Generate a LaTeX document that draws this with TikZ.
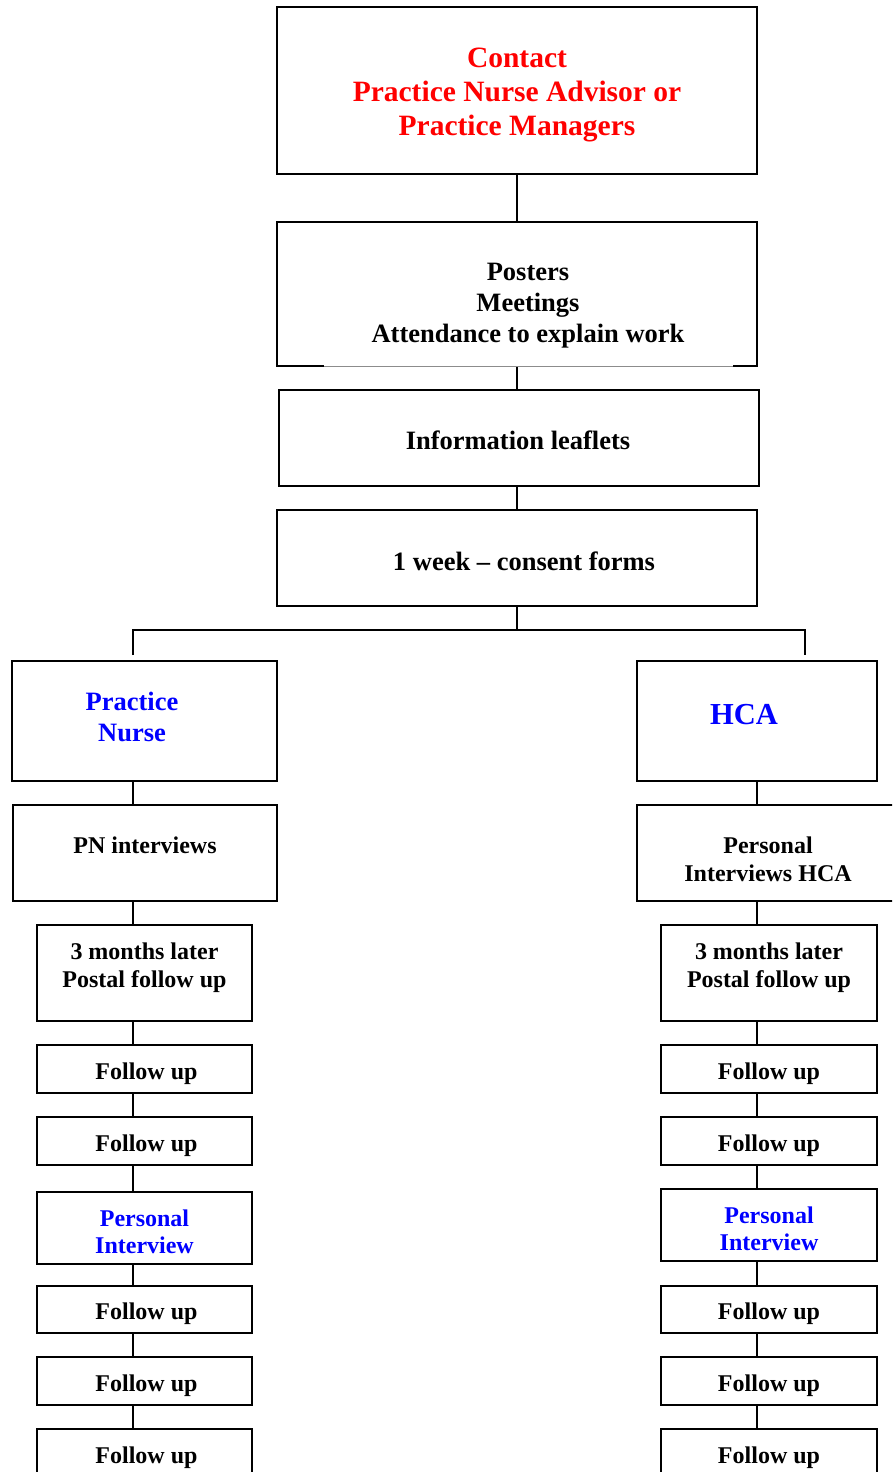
\documentclass[tikz,border=0pt]{standalone}
\usepackage{fontspec}
\setmainfont{Liberation Serif}
\usepackage{tikz}
\usepackage{xcolor}
\usetikzlibrary{calc}
\usetikzlibrary{positioning}

\definecolor{contactred}{RGB}{255,0,0}
\definecolor{rolblue}{RGB}{0,0,255}

\begin{document}
\begin{tikzpicture}[x=1pt,y=-1pt,-,line width=2,
	box/.style={draw=black, fill=white, rectangle, inner sep=0pt},
	topbox/.style={box, minimum width=480, minimum height=96},
	lbox/.style={box, minimum width=215, minimum height=48},
	rbox/.style={box, minimum width=216, minimum height=48},
	tx/.style={align=center, inner sep=0pt, font=\bfseries\fontsize{24}{28}\selectfont},
	toptx/.style={tx, font=\bfseries\fontsize{26.5}{31}\selectfont},
	bluetx/.style={tx, text=rolblue, font=\bfseries\fontsize{24}{27}\selectfont},
	link/.style={draw=black, line width=2}]

\clip (0,0) rectangle (892,1472);

% the top of the chart
\node[topbox, minimum height=167,
	label={[toptx, text=contactred, font=\bfseries\fontsize{29.5}{34}\selectfont, yshift=-4]center:{Contact\\Practice Nurse Advisor or\\Practice Managers}}]
	(contact) at (517,90.5) {};
\node[topbox, minimum height=144,
	label={[toptx, xshift=11, yshift=-12]center:{Posters\\Meetings\\Attendance to explain work}}]
	(posters) at (517,294) {};
\draw[white, line width=3] (324,366) -- (733,366);
\draw[black!45, line width=0.8] (324,366) -- (733,366);
\node[topbox, label={[toptx, xshift=-1, yshift=-2]center:{Information leaflets}}]
	(info) at (519,438) {};
\node[topbox, label={[toptx, xshift=7, yshift=-3]center:{1 week -- consent forms}}]
	(consent) at (517,558) {};

\path[link] (contact) -- (posters);
\path[link] (posters) -- (info.north -| posters);
\path[link] (info.south -| consent) -- (consent);

% the fork
\coordinate (fork) at (517,630);
\coordinate (lend) at (133,655);
\coordinate (rend) at (805,655);
\path[link] (consent) -- (fork);
\path[link] (lend) -- (lend |- fork) -- (rend |- fork) -- (rend);

% left column: practice nurse
\coordinate (lcol) at (133,0);
\node[box, minimum width=265, minimum height=120,
	label={[tx, text=rolblue, font=\bfseries\fontsize{26.5}{31}\selectfont, xshift=-12.5, yshift=4.5]center:{Practice\\Nurse}}]
	(pnurse) at (144.5,721) {};
\node[box, minimum width=264, minimum height=96,
	label={[tx, yshift=8]center:{PN interviews}}]
	(pni) at (145,853) {};
\node[lbox, minimum height=96,
	label={[tx, yshift=5]center:{3 months later\\Postal follow up}}]
	(pt3) at (144.5,973) {};
\node[lbox, label={[tx, xshift=2, yshift=-5]center:{Follow up}}] (pf1) at (144.5,1069) {};
\node[lbox, label={[tx, xshift=2, yshift=-5]center:{Follow up}}] (pf2) at (144.5,1141) {};
\node[lbox, minimum height=72, label={[bluetx, yshift=-4]center:{Personal\\Interview}}]
	(ppi) at (144.5,1228) {};
\node[lbox, minimum height=47, label={[tx, xshift=2, yshift=-4]center:{Follow up}}] (pf3) at (144.5,1309.5) {};
\node[lbox, label={[tx, xshift=2, yshift=-5]center:{Follow up}}] (pf4) at (144.5,1381) {};
\node[lbox, label={[tx, xshift=2, yshift=-5]center:{Follow up}}] (pf5) at (144.5,1453) {};

\foreach \a/\b in {pnurse/pni, pni/pt3, pt3/pf1, pf1/pf2, pf2/ppi, ppi/pf3, pf3/pf4, pf4/pf5}{
	\path[link] (\a.south -| lcol) -- (\b.north -| lcol);
}

% right column: HCA
\coordinate (rcol) at (757,0);
\node[box, minimum width=240, minimum height=120,
	label={[tx, text=rolblue, font=\bfseries\fontsize{30.5}{34}\selectfont, xshift=-13, yshift=6.5]center:{HCA}}]
	(hca) at (757,721) {};
\node[box, minimum width=262, minimum height=96,
	label={[tx, yshift=-6]center:{Personal\\Interviews HCA}}]
	(hi) at (768,853) {};
\node[rbox, minimum height=96,
	label={[tx, yshift=5]center:{3 months later\\Postal follow up}}]
	(ht3) at (769,973) {};
\node[rbox, label={[tx, yshift=-5]center:{Follow up}}] (hf1) at (769,1069) {};
\node[rbox, label={[tx, yshift=-5]center:{Follow up}}] (hf2) at (769,1141) {};
\node[rbox, minimum height=72, label={[bluetx, yshift=-4]center:{Personal\\Interview}}]
	(hpi) at (769,1225) {};
\node[rbox, minimum height=47, label={[tx, yshift=-4]center:{Follow up}}] (hf3) at (769,1309.5) {};
\node[rbox, label={[tx, yshift=-5]center:{Follow up}}] (hf4) at (769,1381) {};
\node[rbox, label={[tx, yshift=-5]center:{Follow up}}] (hf5) at (769,1453) {};

\foreach \a/\b in {hca/hi, hi/ht3, ht3/hf1, hf1/hf2, hf2/hpi, hpi/hf3, hf3/hf4, hf4/hf5}{
	\path[link] (\a.south -| rcol) -- (\b.north -| rcol);
}

\end{tikzpicture}
\end{document}
